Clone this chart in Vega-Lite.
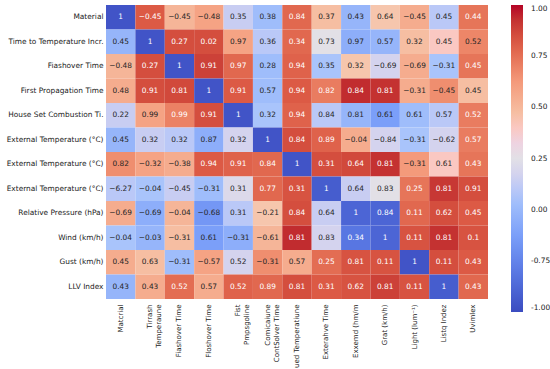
{
  "$schema": "https://vega.github.io/schema/vega-lite/v6.json",
  "width": 382,
  "height": 294,
  "autosize": {"type": "none"},
  "padding": {"left": 106, "top": 5, "right": 62, "bottom": 70},
  "background": "white",
  "config": {"font": "DejaVu Sans", "view": {"stroke": null}},
  "datasets": {
    "rows": [
      {"r": 1, "row": "Material"},
      {"r": 2, "row": "Time to Temperature Incr."},
      {"r": 3, "row": "Fiashover Time"},
      {"r": 4, "row": "First Propagation Time"},
      {"r": 5, "row": "House Set Combustion Ti."},
      {"r": 6, "row": "External Temperature (°C)"},
      {"r": 7, "row": "External Temperature (°C)\u200b"},
      {"r": 8, "row": "External Temperature (°C)\u200b\u200b"},
      {"r": 9, "row": "Relative Pressure (hPa)"},
      {"r": 10, "row": "Wind (km/h)"},
      {"r": 11, "row": "Gust (km/h)"},
      {"r": 12, "row": "LLV Index"}
    ],
    "cols": [
      {"k": 1, "col": "Matcrial"},
      {"k": 2, "col": "Tirrash\nTemperaune"},
      {"k": 3, "col": "Fiashover Time"},
      {"k": 4, "col": "Floshover Time"},
      {"k": 5, "col": "Fist\nPmpsgoline"},
      {"k": 6, "col": "Comicaiune\nContSolver Time"},
      {"k": 7, "col": "ued Temperatiune"},
      {"k": 8, "col": "Exterahve Time"},
      {"k": 9, "col": "Exxemd (hm/m"},
      {"k": 10, "col": "Grat (km/h)"},
      {"k": 11, "col": "Light (lum⁻¹)"},
      {"k": 12, "col": "Listq Indez"},
      {"k": 13, "col": "Uvimlex"}
    ],
    "cells": [
      {"r":1,"k":1,"v":1,"c":-0.95},{"r":1,"k":2,"v":-0.45,"c":0.75},{"r":1,"k":3,"v":-0.45,"c":0.35},{"r":1,"k":4,"v":-0.48,"c":0.45},{"r":1,"k":5,"v":0.35,"c":-0.15},{"r":1,"k":6,"v":0.38,"c":-0.3},{"r":1,"k":7,"v":0.84,"c":0.7},{"r":1,"k":8,"v":0.37,"c":0.3},{"r":1,"k":9,"v":0.43,"c":-0.35},{"r":1,"k":10,"v":0.64,"c":0.25},{"r":1,"k":11,"v":-0.45,"c":0.4},{"r":1,"k":12,"v":0.45,"c":-0.2},{"r":1,"k":13,"v":0.44,"c":0.65},
      {"r":2,"k":1,"v":0.45,"c":-0.35},{"r":2,"k":2,"v":1,"c":-0.95},{"r":2,"k":3,"v":0.27,"c":0.8},{"r":2,"k":4,"v":0.02,"c":0.8},{"r":2,"k":5,"v":0.97,"c":0.45},{"r":2,"k":6,"v":0.36,"c":-0.2},{"r":2,"k":7,"v":0.34,"c":0.7},{"r":2,"k":8,"v":0.73,"c":0.0},{"r":2,"k":9,"v":0.97,"c":-0.4},{"r":2,"k":10,"v":0.57,"c":-0.35},{"r":2,"k":11,"v":0.32,"c":0.3},{"r":2,"k":12,"v":0.45,"c":0.2},{"r":2,"k":13,"v":0.52,"c":0.58},
      {"r":3,"k":1,"v":-0.48,"c":0.35},{"r":3,"k":2,"v":0.27,"c":0.8},{"r":3,"k":3,"v":1,"c":-0.95},{"r":3,"k":4,"v":0.91,"c":0.85},{"r":3,"k":5,"v":0.97,"c":0.7},{"r":3,"k":6,"v":0.28,"c":-0.3},{"r":3,"k":7,"v":0.94,"c":0.72},{"r":3,"k":8,"v":0.35,"c":-0.25},{"r":3,"k":9,"v":0.32,"c":0.25},{"r":3,"k":10,"v":-0.69,"c":-0.1},{"r":3,"k":11,"v":-0.69,"c":0.4},{"r":3,"k":12,"v":-0.31,"c":-0.25},{"r":3,"k":13,"v":0.45,"c":0.65},
      {"r":4,"k":1,"v":0.48,"c":0.4},{"r":4,"k":2,"v":0.91,"c":0.8},{"r":4,"k":3,"v":0.81,"c":0.82},{"r":4,"k":4,"v":1,"c":-0.95},{"r":4,"k":5,"v":0.91,"c":0.75},{"r":4,"k":6,"v":0.57,"c":-0.3},{"r":4,"k":7,"v":0.94,"c":0.75},{"r":4,"k":8,"v":0.82,"c":0.62},{"r":4,"k":9,"v":0.84,"c":0.92},{"r":4,"k":10,"v":0.81,"c":0.9},{"r":4,"k":11,"v":-0.31,"c":0.4},{"r":4,"k":12,"v":-0.45,"c":0.55},{"r":4,"k":13,"v":0.45,"c":0.3},
      {"r":5,"k":1,"v":0.22,"c":-0.15},{"r":5,"k":2,"v":0.99,"c":0.45},{"r":5,"k":3,"v":0.99,"c":0.6},{"r":5,"k":4,"v":0.91,"c":0.8},{"r":5,"k":5,"v":1,"c":-0.95},{"r":5,"k":6,"v":0.32,"c":-0.25},{"r":5,"k":7,"v":0.94,"c":0.72},{"r":5,"k":8,"v":0.84,"c":-0.2},{"r":5,"k":9,"v":0.81,"c":-0.35},{"r":5,"k":10,"v":0.61,"c":-0.5},{"r":5,"k":11,"v":0.61,"c":-0.3},{"r":5,"k":12,"v":0.57,"c":-0.2},{"r":5,"k":13,"v":0.52,"c":0.62},
      {"r":6,"k":1,"v":0.45,"c":-0.35},{"r":6,"k":2,"v":0.32,"c":-0.15},{"r":6,"k":3,"v":0.32,"c":-0.2},{"r":6,"k":4,"v":0.87,"c":-0.4},{"r":6,"k":5,"v":0.32,"c":-0.1},{"r":6,"k":6,"v":1,"c":-0.95},{"r":6,"k":7,"v":0.84,"c":0.8},{"r":6,"k":8,"v":0.89,"c":0.72},{"r":6,"k":9,"v":-0.04,"c":0.4},{"r":6,"k":10,"v":-0.84,"c":-0.1},{"r":6,"k":11,"v":-0.31,"c":-0.25},{"r":6,"k":12,"v":-0.62,"c":-0.1},{"r":6,"k":13,"v":0.57,"c":0.62},
      {"r":7,"k":1,"v":0.82,"c":0.55},{"r":7,"k":2,"v":-0.32,"c":0.45},{"r":7,"k":3,"v":-0.38,"c":0.4},{"r":7,"k":4,"v":0.94,"c":0.75},{"r":7,"k":5,"v":0.91,"c":0.72},{"r":7,"k":6,"v":0.84,"c":0.7},{"r":7,"k":7,"v":1,"c":-0.95},{"r":7,"k":8,"v":0.31,"c":0.8},{"r":7,"k":9,"v":0.64,"c":0.82},{"r":7,"k":10,"v":0.81,"c":0.9},{"r":7,"k":11,"v":-0.31,"c":0.5},{"r":7,"k":12,"v":0.61,"c":0.2},{"r":7,"k":13,"v":0.43,"c":0.65},
      {"r":8,"k":1,"v":-6.27,"c":-0.2},{"r":8,"k":2,"v":-0.04,"c":-0.25},{"r":8,"k":3,"v":-0.45,"c":-0.15},{"r":8,"k":4,"v":-0.31,"c":-0.3},{"r":8,"k":5,"v":0.31,"c":-0.05},{"r":8,"k":6,"v":0.77,"c":0.7},{"r":8,"k":7,"v":0.31,"c":0.78},{"r":8,"k":8,"v":1,"c":-0.9},{"r":8,"k":9,"v":0.64,"c":-0.15},{"r":8,"k":10,"v":0.83,"c":0.0},{"r":8,"k":11,"v":0.25,"c":0.65},{"r":8,"k":12,"v":0.81,"c":0.88},{"r":8,"k":13,"v":0.91,"c":0.8},
      {"r":9,"k":1,"v":-0.69,"c":0.4},{"r":9,"k":2,"v":-0.69,"c":-0.4},{"r":9,"k":3,"v":-0.04,"c":0.35},{"r":9,"k":4,"v":-0.68,"c":-0.55},{"r":9,"k":5,"v":0.31,"c":-0.2},{"r":9,"k":6,"v":-0.21,"c":0.25},{"r":9,"k":7,"v":0.84,"c":0.8},{"r":9,"k":8,"v":0.64,"c":-0.15},{"r":9,"k":9,"v":1,"c":-0.85},{"r":9,"k":10,"v":0.84,"c":-0.85},{"r":9,"k":11,"v":0.11,"c":0.7},{"r":9,"k":12,"v":0.62,"c":0.8},{"r":9,"k":13,"v":0.45,"c":0.75},
      {"r":10,"k":1,"v":-0.04,"c":-0.25},{"r":10,"k":2,"v":-0.03,"c":-0.35},{"r":10,"k":3,"v":-0.31,"c":0.3},{"r":10,"k":4,"v":0.61,"c":-0.5},{"r":10,"k":5,"v":-0.31,"c":-0.4},{"r":10,"k":6,"v":-0.61,"c":0.35},{"r":10,"k":7,"v":0.81,"c":0.92},{"r":10,"k":8,"v":0.83,"c":-0.1},{"r":10,"k":9,"v":0.34,"c":-0.75},{"r":10,"k":10,"v":1,"c":-0.85},{"r":10,"k":11,"v":0.11,"c":0.78},{"r":10,"k":12,"v":0.81,"c":0.9},{"r":10,"k":13,"v":0.1,"c":0.78},
      {"r":11,"k":1,"v":0.45,"c":0.4},{"r":11,"k":2,"v":0.63,"c":0.3},{"r":11,"k":3,"v":-0.31,"c":-0.3},{"r":11,"k":4,"v":-0.57,"c":0.45},{"r":11,"k":5,"v":0.52,"c":-0.1},{"r":11,"k":6,"v":-0.31,"c":0.55},{"r":11,"k":7,"v":0.57,"c":0.4},{"r":11,"k":8,"v":0.25,"c":0.68},{"r":11,"k":9,"v":0.81,"c":0.78},{"r":11,"k":10,"v":0.11,"c":0.78},{"r":11,"k":11,"v":1,"c":-0.95},{"r":11,"k":12,"v":0.11,"c":0.8},{"r":11,"k":13,"v":0.43,"c":0.75},
      {"r":12,"k":1,"v":0.43,"c":-0.35},{"r":12,"k":2,"v":0.43,"c":0.4},{"r":12,"k":3,"v":0.52,"c":0.68},{"r":12,"k":4,"v":0.57,"c":0.4},{"r":12,"k":5,"v":0.52,"c":0.72},{"r":12,"k":6,"v":0.89,"c":0.7},{"r":12,"k":7,"v":0.81,"c":0.8},{"r":12,"k":8,"v":0.31,"c":0.75},{"r":12,"k":9,"v":0.62,"c":0.78},{"r":12,"k":10,"v":0.81,"c":0.85},{"r":12,"k":11,"v":0.11,"c":0.78},{"r":12,"k":12,"v":1,"c":-0.9},{"r":12,"k":13,"v":0.43,"c":0.7}
    ]
  },
  "data": {"name": "cells"},
  "transform": [
    {"lookup": "r", "from": {"data": {"name": "rows"}, "key": "r", "fields": ["row"]}},
    {"lookup": "k", "from": {"data": {"name": "cols"}, "key": "k", "fields": ["col"]}}
  ],
  "encoding": {
    "x": {
      "field": "col", "type": "nominal", "sort": null,
      "scale": {"paddingInner": 0, "paddingOuter": 0},
      "axis": {"title": null, "domain": false, "ticks": false, "labelAngle": -90, "labelPadding": 5, "labelFontSize": 7, "labelColor": "#222222", "labelLineHeight": 9, "labelExpr": "split(datum.label, '\\n')", "labelLimit": 200}
    },
    "y": {
      "field": "row", "type": "nominal", "sort": null,
      "scale": {"paddingInner": 0, "paddingOuter": 0},
      "axis": {"title": null, "domain": false, "ticks": false, "labelPadding": 3, "labelFontSize": 7.4, "labelColor": "#222222", "labelLimit": 200}
    }
  },
  "layer": [
    {
      "mark": {"type": "rect"},
      "encoding": {
        "color": {
          "field": "c", "type": "quantitative",
          "scale": {
            "domain": [-1, -0.75, -0.5, -0.25, 0, 0.25, 0.5, 0.75, 1],
            "range": ["#3b4cc0", "#5876e2", "#7b9ff9", "#a9c4fb", "#e2e0e6", "#f6c6ad", "#f49a7b", "#dc5a45", "#b40426"]
          },
          "legend": {
            "title": null, "orient": "right", "offset": 23,
            "gradientLength": 307, "gradientThickness": 12, "gradientStrokeWidth": 0,
            "values": [-1, -0.6667, -0.3333, 0, 0.3333, 0.6667, 1],
            "labelExpr": "datum.value < -0.9 ? '-1.00' : datum.value < -0.5 ? '-0.75' : datum.value < -0.2 ? '0.00' : datum.value < 0.2 ? '0.25' : datum.value < 0.5 ? '0.50' : datum.value < 0.9 ? '0.75' : '1.00'",
            "labelFontSize": 7.4, "labelColor": "#222222", "labelOffset": 8
          }
        }
      }
    },
    {
      "mark": {"type": "text", "fontSize": 7.4},
      "encoding": {
        "text": {"field": "v", "type": "quantitative", "format": ".2~f"},
        "color": {"condition": {"test": "abs(datum.c) >= 0.6", "value": "white"}, "value": "#262626"}
      }
    }
  ]
}
